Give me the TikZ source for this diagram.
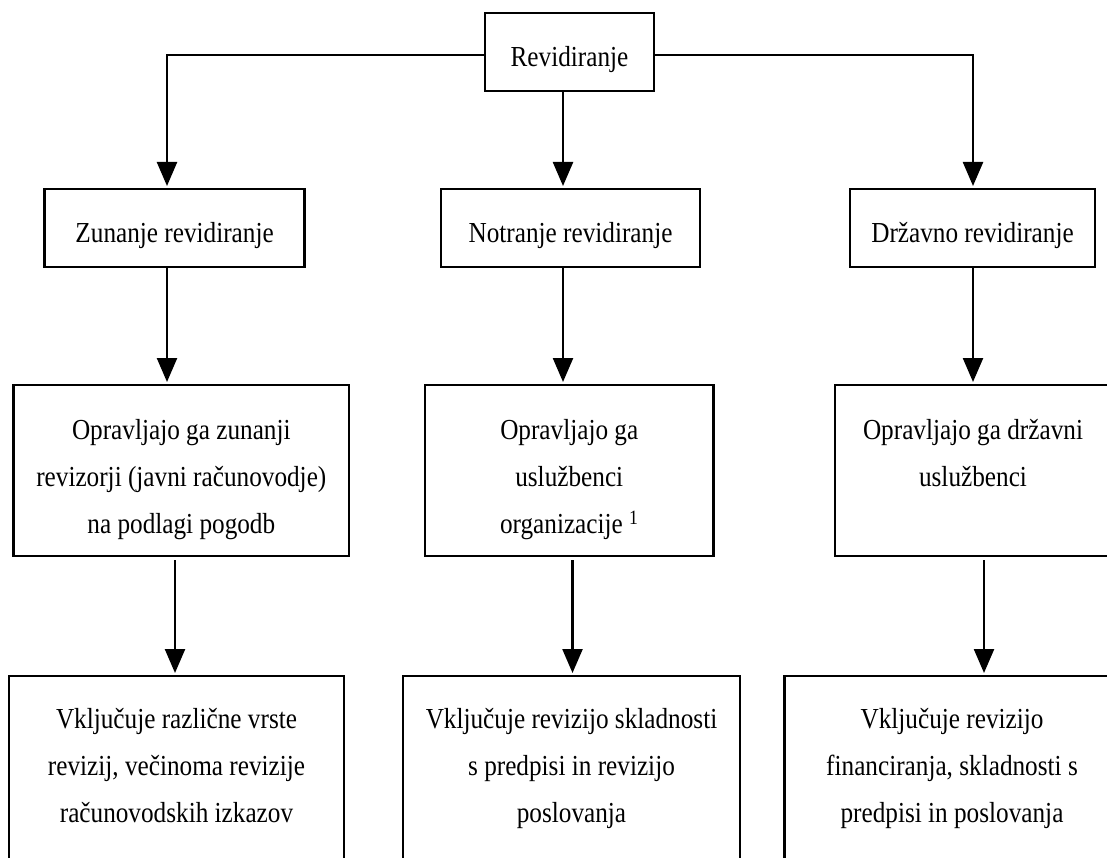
\documentclass[tikz,border=0pt]{standalone}
\usepackage{fontspec}
\setmainfont{Liberation Serif}[FakeStretch=0.87]
\usetikzlibrary{arrows.meta}

\begin{document}
\begin{tikzpicture}[
  x=1pt, y=-1pt,
  line width=2.4pt,
  box/.style={draw, rectangle, inner sep=0pt, outer sep=0pt},
  label/.style={inner sep=0pt, align=center, font=\fontsize{29}{47}\selectfont},
  arrow/.style={-{Triangle[length=24pt,width=20pt]}, shorten >=3pt}
]
\clip (0,0) rectangle (1107,858);

% top level
\node[box, minimum width=169pt, minimum height=78pt] (b0) at (569.5,52) {};
\node[label, anchor=base] (t0) at (569.5,67) {Revidiranje};

% second row: kinds of auditing
\node[box, minimum width=260pt, minimum height=78pt] (z1) at (174.6,228) {};
\node[box, minimum width=259pt, minimum height=78pt] (n1) at (570.5,228) {};
\node[box, minimum width=245pt, minimum height=78pt] (d1) at (972.5,228) {};
\node[label, anchor=base] (tz1) at (174.6,243) {Zunanje revidiranje};
\node[label, anchor=base] (tn1) at (570.5,243) {Notranje revidiranje};
\node[label, anchor=base] (td1) at (972.5,243) {Državno revidiranje};

% third row: who performs it (the right box runs past the page edge)
\node[box, minimum width=335.4pt, minimum height=171pt] (z2) at (181.3,470.5) {};
\node[box, minimum width=288.5pt, minimum height=171pt] (n2) at (569.25,470.5) {};
\node[box, minimum width=295pt, minimum height=171pt] (d2) at (982.5,470.5) {};
\node[label, anchor=north] (tz2) at (181.3,418) {Opravljajo ga zunanji\\revizorji (javni računovodje)\\na podlagi pogodb};
\node[label, anchor=north] (tn2) at (569.25,418) {Opravljajo ga\\uslužbenci\\organizacije \textsuperscript{1}};
\node[label, anchor=north] (td2) at (973,418) {Opravljajo ga državni\\uslužbenci};

% fourth row: what it covers (boxes run past the bottom edge)
\node[box, minimum width=335pt, minimum height=224pt] (z3) at (176.5,788) {};
\node[box, minimum width=337pt, minimum height=224pt] (n3) at (571.5,788) {};
\node[box, minimum width=345.5pt, minimum height=224pt] (d3) at (957.25,788) {};
\node[label, anchor=north] (tz3) at (176.5,707) {Vključuje različne vrste\\revizij, večinoma revizije\\računovodskih izkazov};
\node[label, anchor=north] (tn3) at (571.5,707) {Vključuje revizijo skladnosti\\s predpisi in revizijo\\poslovanja};
\node[label, anchor=north] (td3) at (952,707) {Vključuje revizijo\\financiranja, skladnosti s\\predpisi in poslovanja};

% connector columns
\coordinate (cL) at (167,55);
\coordinate (cM) at (563,55);
\coordinate (cR) at (973,55);
\coordinate (eL) at (175,0);
\coordinate (eM) at (572.5,0);
\coordinate (eR) at (984,0);

% from the top box
\draw[arrow] (b0.west |- cL) -| (z1.north -| cL);
\draw[arrow] (b0.south -| cM) -- (n1.north -| cM);
\draw[arrow] (b0.east |- cR) -| (d1.north -| cR);

% second to third row
\draw[arrow] (z1.south -| cL) -- (z2.north -| cL);
\draw[arrow] (n1.south -| cM) -- (n2.north -| cM);
\draw[arrow] (d1.south -| cR) -- (d2.north -| cR);

% third to fourth row
\draw[arrow] ([yshift=-4pt]z2.south -| eL) -- (z3.north -| eL);
\draw[arrow] ([yshift=-4pt]n2.south -| eM) -- (n3.north -| eM);
\draw[arrow] ([yshift=-4pt]d2.south -| eR) -- (d3.north -| eR);
\end{tikzpicture}
\end{document}
